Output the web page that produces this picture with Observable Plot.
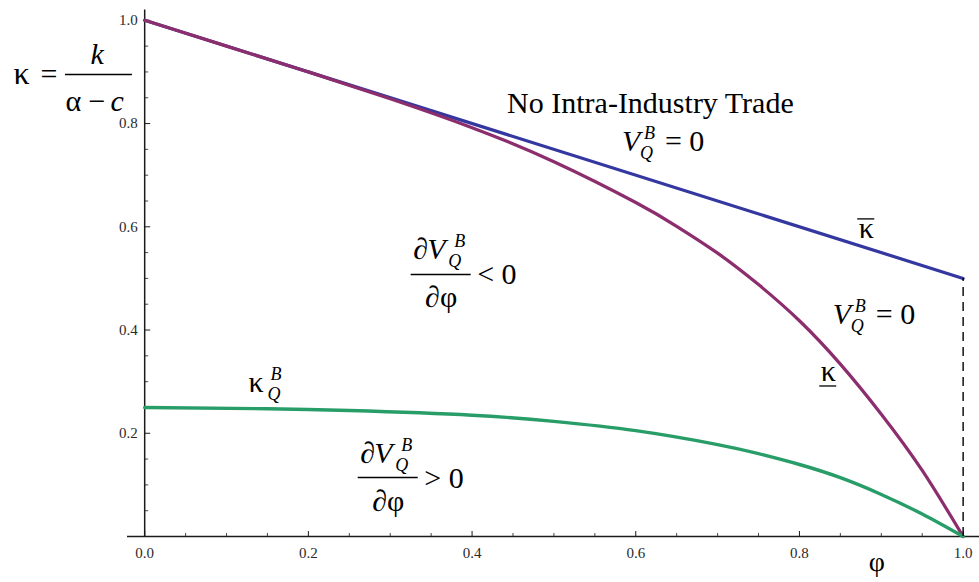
<!DOCTYPE html>
<html>
<head>
<meta charset="utf-8">
<script src="https://cdn.jsdelivr.net/npm/d3@7"></script>
<script src="https://cdn.jsdelivr.net/npm/@observablehq/plot@0.6"></script>
<style>
  html, body { margin: 0; padding: 0; background: #fff; }
</style>
</head>
<body>
<div id="chart"></div>
<script>
// ---- data ----
const phiBar = [0, 1];
const kappaBar = [1.0, 0.5];

const phiLow = [0, 0.1, 0.2, 0.3, 0.4, 0.5, 0.6, 0.65, 0.7, 0.75, 0.8, 0.85, 0.9, 0.95, 1.0];
const kappaLow = [1.0, 0.95, 0.90, 0.848, 0.792, 0.726, 0.647, 0.601, 0.549, 0.488, 0.418, 0.334, 0.237, 0.128, 0.0];

const phiQB = [0, 0.15, 0.25, 0.4, 0.5, 0.6, 0.7, 0.75, 0.8, 0.85, 0.9, 0.95, 1.0];
const kappaQB = [0.25, 0.2475, 0.244, 0.235, 0.223, 0.205, 0.178, 0.1605, 0.1395, 0.114, 0.0815, 0.0435, 0.0];

const xTicks = [0, 0.2, 0.4, 0.6, 0.8, 1.0];
const xTickLabels = ["0.0", "0.2", "0.4", "0.6", "0.8", "1.0"];
const xMinor = [0.05, 0.1, 0.15, 0.25, 0.3, 0.35, 0.45, 0.5, 0.55, 0.65, 0.7, 0.75, 0.85, 0.9, 0.95];
const yTicks = [0.2, 0.4, 0.6, 0.8, 1.0];
const yTickLabels = ["0.2", "0.4", "0.6", "0.8", "1.0"];
const yMinor = [0.05, 0.1, 0.15, 0.25, 0.3, 0.35, 0.45, 0.5, 0.55, 0.65, 0.7, 0.75, 0.85, 0.9, 0.95];

// ---- layout ----
const W = 979, H = 582;
const mL = 127, mR = 0, mT = 9.5, mB = 46;
const xDomain = [-0.021, 1.02], yDomain = [0, 1.02];
const xPerPx = (xDomain[1] - xDomain[0]) / (W - mL - mR);
const yPerPx = (yDomain[1] - yDomain[0]) / (H - mT - mB);

const serif = "Liberation Serif";
const cBlue = "#33379f", cPurple = "#8c2d6e", cGreen = "#289d68";
const axisColor = "#1a1a1a";

function part(anchor, text, {dx = 0, dy = 0, size = 30, italic = false, textAnchor = "start"} = {}) {
  return Plot.text([anchor], {
    x: "x", y: "y", text: () => text, dx, dy,
    fontSize: size, fontStyle: italic ? "italic" : "normal",
    fontFamily: serif, textAnchor, lineAnchor: "bottom", fill: "#000"
  });
}
function bar(y, x1, x2, dy = 0) {
  return Plot.ruleY([{y, x1, x2}], {y: "y", x1: "x1", x2: "x2", dy, stroke: "#000", strokeWidth: 1.3});
}
// V_Q^B = 0
function vLabel(a) {
  return [
    part(a, "V", {italic: true}),
    part(a, "B", {dx: 22, dy: -12, size: 18, italic: true}),
    part(a, "Q", {dx: 18, dy: 8, size: 18, italic: true}),
    part(a, "= 0", {dx: 43})
  ];
}
// dV_Q^B / dphi  (anchor at left end of the fraction bar)
function fracLabel(a, rel) {
  const barLen = 60 * xPerPx;
  return [
    part(a, "\u2202", {dx: 2, dy: -15}),
    part(a, "V", {dx: 16, dy: -15, italic: true}),
    part(a, "B", {dx: 43, dy: -27, size: 18, italic: true}),
    part(a, "Q", {dx: 37, dy: -7, size: 18, italic: true}),
    bar(a.y, a.x, a.x + barLen),
    part(a, "\u2202\u03c6", {dx: 30, dy: 33, textAnchor: "middle"}),
    part(a, rel + " 0", {dx: 66, dy: 10})
  ];
}

const lowData = phiLow.map((x, i) => ({x, y: kappaLow[i]}));
const barData = phiBar.map((x, i) => ({x, y: kappaBar[i]}));
const qbData = phiQB.map((x, i) => ({x, y: kappaQB[i]}));

const leftA = {x: -0.1603, y: 0.8776};
const kbarA = {x: 0.8816, y: 0.5792};
const kundA = {x: 0.8352, y: 0.3022};
const kqbA = {x: 0.1268, y: 0.279};

const chart = Plot.plot({
  width: W, height: H,
  marginLeft: mL, marginRight: mR, marginTop: mT, marginBottom: mB,
  x: {domain: xDomain, axis: null},
  y: {domain: yDomain, axis: null},
  style: {fontFamily: serif, background: "#fff", overflow: "visible"},
  marks: [
    // axes
    Plot.ruleY([0], {stroke: axisColor, strokeWidth: 1.5}),
    Plot.ruleX([0], {stroke: axisColor, strokeWidth: 1.5}),
    Plot.ruleX(xTicks, {x: d => d, y1: 0, y2: 5 * yPerPx, stroke: axisColor, strokeWidth: 1}),
    Plot.ruleX(xMinor, {x: d => d, y1: 0, y2: 3 * yPerPx, stroke: axisColor, strokeWidth: 0.8}),
    Plot.ruleY(yTicks, {y: d => d, x1: 0, x2: 6 * xPerPx, stroke: axisColor, strokeWidth: 1}),
    Plot.ruleY(yMinor, {y: d => d, x1: 0, x2: 4 * xPerPx, stroke: axisColor, strokeWidth: 0.8}),
    Plot.text(xTicks, {x: d => d, y: 0, text: (d, i) => xTickLabels[i], lineAnchor: "top", dy: 11, fontSize: 15, fill: "#2a2a2a", fontFamily: serif}),
    Plot.text(yTicks, {x: 0, y: d => d, text: (d, i) => yTickLabels[i], textAnchor: "end", lineAnchor: "middle", dx: -7, fontSize: 15, fill: "#2a2a2a", fontFamily: serif}),

    // curves
    Plot.line(barData, {x: "x", y: "y", stroke: cBlue, strokeWidth: 3.2}),
    Plot.line(lowData, {x: "x", y: "y", stroke: cPurple, strokeWidth: 3.2, curve: "natural"}),
    Plot.line(qbData, {x: "x", y: "y", stroke: cGreen, strokeWidth: 3.4, curve: "natural"}),
    Plot.ruleX([phiBar[1]], {x: d => d, y1: 0, y2: kappaBar[1], stroke: "#000", strokeWidth: 1.4, strokeDasharray: "9,6"}),

    // left axis label: kappa = k / (alpha - c)
    part(leftA, "\u03ba", {size: 32}),
    part(leftA, "=", {dx: 27}),
    bar(0.895, -0.0968, -0.0150),
    part(leftA, "k", {dx: 77, dy: -20, italic: true}),
    part(leftA, "\u03b1", {dx: 52, dy: 27}),
    part(leftA, "\u2212", {dx: 75, dy: 27}),
    part(leftA, "c", {dx: 97, dy: 27, italic: true}),

    // annotations
    part({x: 0.4428, y: 0.8195}, "No Intra-Industry Trade"),
    ...vLabel({x: 0.5831, y: 0.7478}),
    ...vLabel({x: 0.8407, y: 0.4126}),
    part(kbarA, "\u03ba", {textAnchor: "middle"}),
    bar(0.6153, 0.8712, 0.892),
    part(kundA, "\u03ba", {textAnchor: "middle"}),
    bar(0.2916, 0.8248, 0.8456),
    ...fracLabel({x: 0.3256, y: 0.5076}, "<"),
    ...fracLabel({x: 0.2609, y: 0.1143}, ">"),
    part(kqbA, "\u03ba"),
    part(kqbA, "B", {dx: 22, dy: -12, size: 18, italic: true}),
    part(kqbA, "Q", {dx: 19, dy: 8, size: 18, italic: true}),
    part({x: 0.8944, y: -0.0678}, "\u03c6", {textAnchor: "middle", size: 28})
  ]
});
document.getElementById("chart").appendChild(chart);
</script>
</body>
</html>
